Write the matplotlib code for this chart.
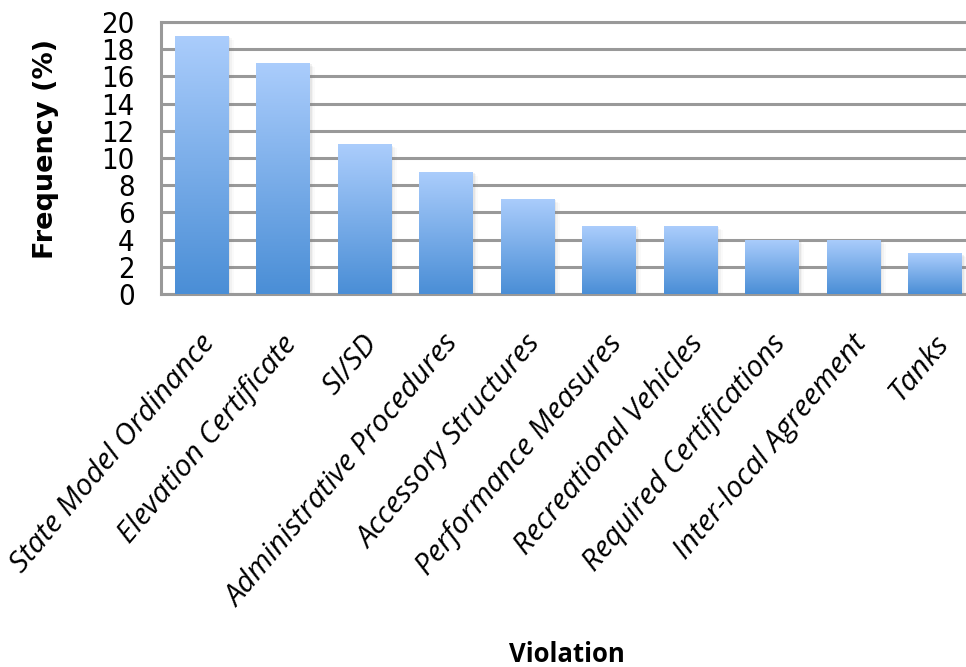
import numpy as np
import matplotlib
matplotlib.use('Agg')
import matplotlib.pyplot as plt
from matplotlib.colors import LinearSegmentedColormap
from matplotlib.patches import Rectangle
from matplotlib.transforms import ScaledTranslation

categories = ['State Model Ordinance', 'Elevation Certificate', 'SI/SD',
              'Administrative Procedures', 'Accessory Structures',
              'Performance Measures', 'Recreational Vehicles',
              'Required Certifications', 'Inter-local Agreement', 'Tanks']
values = [19, 17, 11, 9, 7, 5, 5, 4, 4, 3]
yticks = list(range(0, 21, 2))

fig = plt.figure(figsize=(9.66, 6.67), dpi=100)
ax = fig.add_axes([161/966, 1-294/667, 815/966, 272/667])

x = np.arange(len(categories))
width = 0.66
grad = LinearSegmentedColormap.from_list('g', ['#4a8ed6', '#abcdfc'])
img = np.linspace(0, 1, 256).reshape(-1, 1)

for xi, v in zip(x, values):
    # soft shadow
    for k, a in enumerate([0.10, 0.06, 0.03]):
        d = 0.02 * (k + 1)
        ax.add_patch(Rectangle((xi - width/2 + d, 0), width, v - 0.1*(k+1),
                               color='#777777', alpha=a, lw=0, zorder=2))
    bar = ax.bar(xi, v, width=width, color='none', zorder=3)[0]
    im = ax.imshow(img, cmap=grad, origin='lower', aspect='auto',
                   extent=[xi - width/2, xi + width/2, 0, v], zorder=3)
    im.set_clip_path(bar)

ax.set_xlim(-0.5, len(categories) - 0.5)
ax.set_ylim(0, 20)
ax.set_yticks(yticks)
ax.yaxis.grid(True, color='#999999', lw=2.2, zorder=0)
ax.set_axisbelow(True)
for s in ax.spines.values():
    s.set_color('#999999')
    s.set_linewidth(2.2)
ax.spines['right'].set_visible(False)

ax.tick_params(axis='y', length=0, pad=19)
ax.tick_params(axis='x', length=0, pad=2)
for lab in ax.set_yticklabels([str(t) for t in yticks]):
    lab.set_fontfamily('DejaVu Sans')
    lab.set_fontstretch('condensed')
    lab.set_fontsize(21)

ax.set_xticks(x)
ax.set_xticklabels(categories, rotation=50, rotation_mode='anchor', ha='right',
                   va='center', fontsize=21.5, style='italic',
                   family=['Open Sans', 'DejaVu Sans'])
for lab in ax.get_xticklabels():
    lab.set_transform(lab.get_transform() + ScaledTranslation(0.08, -0.42, fig.dpi_scale_trans))

fig.text(46/966, 1-149/667, 'Frequency (%)', rotation=90, ha='center', va='center',
         fontsize=19.5, fontweight='bold', family='DejaVu Sans')
fig.text(567/966, 1-655/667, 'Violation', ha='center', va='center',
         fontsize=18.5, fontweight='bold', family=['Open Sans', 'DejaVu Sans'])

fig.savefig('out.png', dpi=100)
